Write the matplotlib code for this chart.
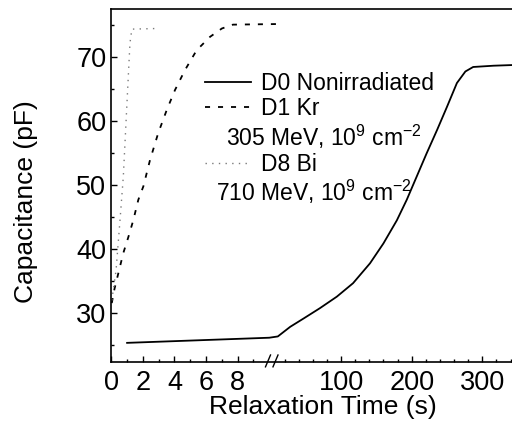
import numpy as np
import matplotlib
matplotlib.use("Agg")
import matplotlib.pyplot as plt
from matplotlib.lines import Line2D
from matplotlib.transforms import Affine2D
from matplotlib.ticker import FixedLocator, FixedFormatter

plt.rcParams['font.family'] = ['Liberation Sans', 'DejaVu Sans']
plt.rcParams['mathtext.fontset'] = 'custom'
plt.rcParams['mathtext.rm'] = 'Liberation Sans'
plt.rcParams['mathtext.it'] = 'Liberation Sans:italic'
plt.rcParams['mathtext.bf'] = 'Liberation Sans:bold'

# ---- data ----
t_d0 = [1, 10, 10.5, 28, 47, 70, 94, 117, 141, 160, 179, 193, 207, 221, 236,
        250, 264, 276, 287, 316, 342]
c_d0 = [25.4, 26.2, 26.4, 27.9, 29.2, 30.8, 32.6, 34.7, 37.8, 40.9, 44.5, 47.7,
        51.3, 54.9, 58.6, 62.2, 65.9, 67.7, 68.4, 68.6, 68.7]

t_d1 = [0.03, 0.2, 0.44, 0.76, 1.08, 1.39, 1.71, 2.03, 2.45, 2.97, 3.51, 4.03,
        4.66, 5.4, 6.25, 7.0, 7.7, 13.5]
c_d1 = [31.6, 33.8, 36.2, 39.4, 41.9, 44.5, 47.7, 49.8, 53.9, 58.1, 61.7, 64.8,
        67.9, 71.0, 73.1, 74.4, 75.0, 75.1]

t_d8 = [0.03, 0.3, 0.55, 0.76, 0.97, 1.18, 1.3, 2.9]
c_d8 = [32.0, 36.7, 44.5, 51.3, 61.7, 72.1, 74.3, 74.4]

labels = ['D0 Nonirradiated', 'D1 Kr', r'305 MeV, 10$^9$ cm$^{-2}$',
          'D8 Bi', r'710 MeV, 10$^9$ cm$^{-2}$']

x_major = [0, 2, 4, 6, 8, 100, 200, 300]
x_major_labels = ['0', '2', '4', '6', '8', '100', '200', '300']
x_minor = [1, 3, 5, 7, 9, 20, 40, 60, 80, 120, 140, 160, 180, 220, 240, 260,
           280, 320, 340]
y_major = [30, 40, 50, 60, 70]
y_minor = [25, 35, 45, 55, 65, 75]

# ---- broken x scale: 0-10 s linear, then compressed ----
BREAK = 10.0
JUMP = 10.52
K = 0.04472


def fwd(t):
    t = np.asarray(t, dtype=float)
    return np.where(t <= BREAK, t, JUMP + (t - BREAK) * K)


def inv(u):
    u = np.asarray(u, dtype=float)
    return np.where(u <= BREAK, u,
                    np.where(u < JUMP, BREAK, BREAK + (u - JUMP) / K))


fig = plt.figure(figsize=(5.12, 4.30), dpi=100)
ax = fig.add_axes([0.2174, 0.1588, 0.7826, 0.8203])
ax.set_xscale('function', functions=(fwd, inv))

h0, = ax.plot(t_d0, c_d0, color='black', lw=1.3, label=labels[0])
h1, = ax.plot(t_d1, c_d1, color='black', lw=1.3, linestyle=(0, (2.8, 4.4)),
              label=labels[1])
h8, = ax.plot(t_d8, c_d8, color='#7a7a7a', lw=1.0, linestyle=(0, (1, 3.8)),
              label=labels[3])

ax.set_xlim(0, 342)
ax.set_ylim(22.46, 77.44)

ax.xaxis.set_major_locator(FixedLocator(x_major))
ax.xaxis.set_major_formatter(FixedFormatter(x_major_labels))
ax.xaxis.set_minor_locator(FixedLocator(x_minor))
ax.yaxis.set_major_locator(FixedLocator(y_major))
ax.yaxis.set_minor_locator(FixedLocator(y_minor))

ax.tick_params(which='both', direction='in', width=1.0, labelsize=19.5,
               top=False, right=False)
ax.tick_params(which='major', length=4.5)
ax.tick_params(which='minor', length=2.5)
ax.tick_params(axis='x', which='major', pad=6)

for side in ['left', 'bottom', 'top']:
    ax.spines[side].set_linewidth(1.2)
ax.spines['right'].set_visible(False)

ax.set_xlabel('Relaxation Time (s)', fontsize=19)
ax.set_ylabel('Capacitance (pF)', fontsize=19)
ax.xaxis.set_label_coords(0.529, -0.094)
ax.yaxis.set_label_coords(-0.183, 0.454)

# axis break marks
for x0 in (0.3848, 0.4035):
    ax.plot([x0, x0 + 0.0125], [-0.0145, 0.019], transform=ax.transAxes,
            color='black', lw=1.0, clip_on=False)

blank = Line2D([], [], linestyle='none')
leg = ax.legend([h0, h1, blank, h8, blank], labels, loc='upper left',
                bbox_to_anchor=(0.2338, 0.822), frameon=False, fontsize=16.5,
                borderpad=0, borderaxespad=0, handlelength=2.0,
                handletextpad=0.44, labelspacing=0.1)
texts = leg.get_texts()
for idx, dx in ((2, -35), (4, -45)):
    tr = texts[idx].get_transform()
    texts[idx].set_transform(tr + Affine2D().translate(dx, 0))

fig.savefig('out.png', dpi=100)
